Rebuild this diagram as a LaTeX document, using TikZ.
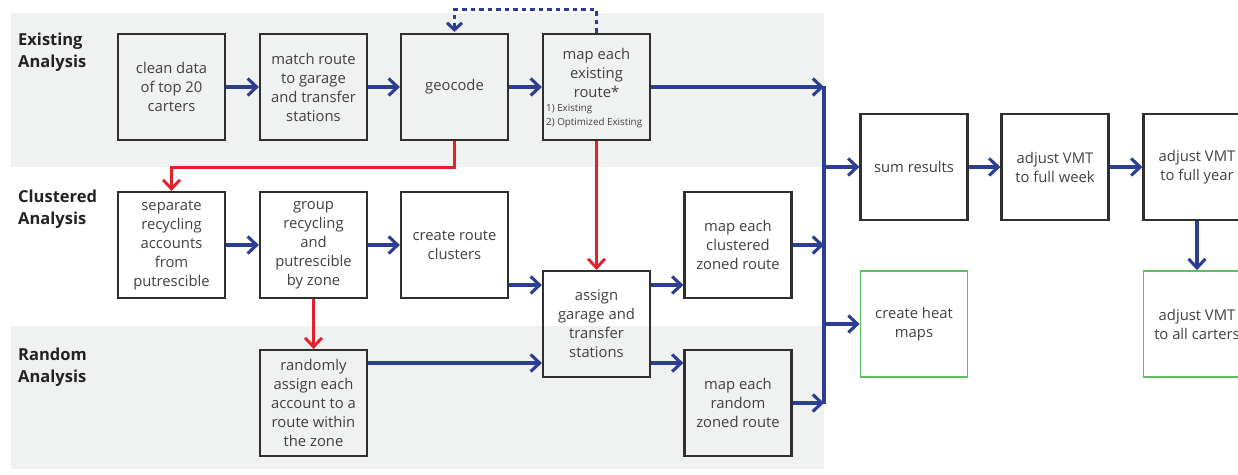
\documentclass[tikz,border=0pt]{standalone}
\usepackage{fontspec}
\setmainfont{Open Sans}
\usetikzlibrary{arrows.meta}
\definecolor{flowblue}{HTML}{2B3E92}
\definecolor{flowred}{HTML}{E3202B}
\definecolor{flowgreen}{HTML}{5DBE5D}
\definecolor{band}{HTML}{F0F1F1}
\definecolor{boxline}{HTML}{2F2F2F}
\definecolor{txt}{HTML}{404040}
\definecolor{lanetxt}{HTML}{222222}
\begin{document}
\begin{tikzpicture}[x=1pt,y=-1pt,
  stepbox/.style={draw=boxline, line width=2.2pt, minimum width=107pt, minimum height=106pt,
    inner sep=1pt, align=center, font=\fontsize{14.8}{19}\selectfont, text=txt},
  greenbox/.style={stepbox, draw=flowgreen, line width=1.8pt},
  boxtext/.style={align=center, inner sep=0pt, font=\fontsize{14.8}{19}\selectfont, text=txt},
  notetext/.style={anchor=north west, align=left, inner sep=0pt, font=\fontsize{9.8}{14}\selectfont, text=txt},
  lane/.style={anchor=north west, align=left, inner sep=0pt, font=\fontsize{16.5}{22}\selectfont\bfseries, text=lanetxt},
  tip/.style={-{Straight Barb[length=9pt,width=17pt]}},
  flow/.style={draw=flowblue, line width=3.1pt, tip},
  feed/.style={draw=flowred, line width=2.9pt, tip},
  dotflow/.style={draw=flowblue, line width=3.1pt, dash pattern=on 4.5pt off 4pt, -{Straight Barb[length=7pt,width=15pt]}},
  busline/.style={draw=flowblue, line width=3.1pt}
]
\useasboundingbox (0,0) rectangle (1238,474);
\fill[white] (0,0) rectangle (1238,474);
% lane backgrounds
\fill[band] (11,13) rectangle (824,167);
\fill[band] (11,326) rectangle (824,469);

% lane titles
\node[lane] (laneex) at (18,33) {Existing\\Analysis};
\node[lane] (lanecl) at (18,190) {Clustered\\Analysis};
\node[lane] (lanerd) at (18,348) {Random\\Analysis};

% existing analysis
\node[stepbox] (clean) at (171.5,87) {clean data\\of top 20\\carters};
\node[stepbox] (match) at (313.5,87) {match route\\to garage\\and transfer\\stations};
\node[stepbox] (geocode) at (454.5,87) {\raisebox{-2pt}{geocode}};
\node[stepbox] (mapex) at (596.5,87) {};
\node[boxtext] (mapextext) at (596.5,73) {map each\\existing\\route*};
\node[notetext] (mapexnote) at (546,104) {1) Existing\\2) Optimized Existing};

% clustered analysis
\node[stepbox] (sep) at (171.5,245) {separate\\recycling\\accounts\\from\\putrescible};
\node[stepbox] (group) at (313.5,245) {group\\recycling\\and\\putrescible\\by zone};
\node[stepbox] (clusters) at (454.5,245) {create route\\clusters};
\node[stepbox] (assign) at (596.5,324) {assign\\garage and\\transfer\\stations};
\node[stepbox] (mapcl) at (738,245) {map each\\clustered\\zoned route};

% random analysis
\node[stepbox] (rand) at (313.5,403) {randomly\\assign each\\account to a\\route within\\the zone};
\node[stepbox] (maprand) at (738,403) {map each\\random\\zoned route};

% results
\node[stepbox] (sum) at (914,167) {sum results};
\node[stepbox] (week) at (1055,167) {adjust VMT\\to full week};
\node[stepbox] (year) at (1197,167) {adjust VMT\\to full year};
\node[greenbox] (heat) at (914,324) {create heat\\maps};
\node[greenbox] (allc) at (1197,324) {adjust VMT\\to all carters};

% collecting bus
\coordinate (bustop) at (824,86);
\coordinate (busbot) at (824,404);
\draw[busline] (bustop) -- (busbot);

% blue flow
\draw[flow] (clean) -- (match);
\draw[flow] (match) -- (geocode);
\draw[flow] (geocode) -- (mapex);
\draw[flow] (mapex.east) -- (mapex.east -| bustop);
\draw[dotflow] (mapex.north) -- ++(0,-23) -| ([yshift=1pt]geocode.north);

\draw[flow] (sep) -- (group);
\draw[flow] (group) -- (clusters);
\draw[flow] ([yshift=-40pt]clusters.east) coordinate (cla) -- (cla -| assign.west);
\draw[flow] ([yshift=40pt]rand.east) coordinate (rda) -- (rda -| assign.west);
\draw[flow] ([yshift=39pt]assign.east) coordinate (acl) -- (acl -| mapcl.west);
\draw[flow] ([yshift=-39pt]assign.east) coordinate (ard) -- (ard -| maprand.west);
\draw[flow] (mapcl.east) -- (mapcl.east -| bustop);
\draw[flow] (maprand.east) -- (maprand.east -| bustop);

\draw[flow] (sum.west -| bustop) -- (sum.west);
\draw[flow] (heat.west -| bustop) -- (heat.west);
\draw[flow] (sum) -- (week);
\draw[flow] (week) -- (year);
\draw[flow] (year) -- (allc);

% red feeds
\draw[feed] (geocode.south) -- ++(0,26) -| (sep.north);
\draw[feed] (mapex.south) -- (assign.north);
\draw[feed] (group.south) -- (rand.north);
\end{tikzpicture}
\end{document}
